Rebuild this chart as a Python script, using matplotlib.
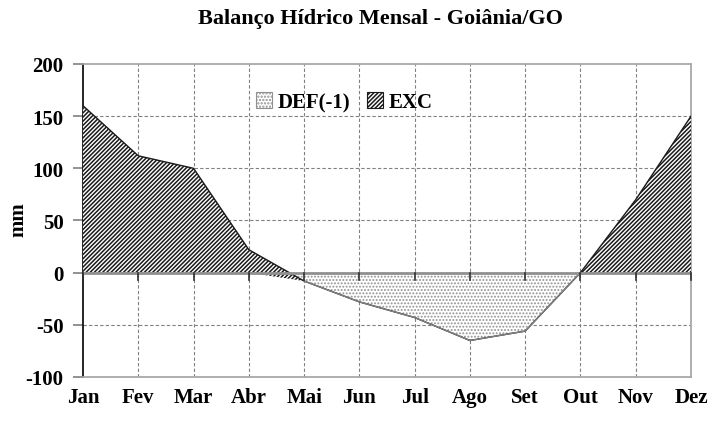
import matplotlib
matplotlib.use('Agg')
import matplotlib.pyplot as plt
import numpy as np
from matplotlib.patches import Patch

meses = ['Jan', 'Fev', 'Mar', 'Abr', 'Mai', 'Jun', 'Jul', 'Ago', 'Set', 'Out', 'Nov', 'Dez']
# deficiência (negativa) e excedente hídrico, mm
deficit = [0, 0, 0, 0, -8, -28, -43, -65, -56, 0, 0, 0]
excedente = [160, 112, 100, 22, 0, 0, 0, 0, 0, 0, 70, 150]

plt.rcParams['font.family'] = ['Liberation Serif', 'DejaVu Serif']
plt.rcParams['font.weight'] = 'bold'
plt.rcParams['axes.unicode_minus'] = False

x = np.arange(len(meses))
dfc = np.array(deficit, dtype=float)
topo = dfc + np.array(excedente, dtype=float)

fig = plt.figure(figsize=(7.13, 4.31), dpi=100)
ax = fig.add_axes([83 / 713, 1 - 378 / 431, (691 - 83) / 713, (378 - 65) / 431])

# grade
for yy in [-50, 50, 100, 150]:
    ax.axhline(yy, color='#808080', lw=0.8, ls=(0, (3, 2)), zorder=0)
for xx in x[1:-1]:
    ax.axvline(xx, color='#808080', lw=0.8, ls=(0, (3, 2)), zorder=0)

# áreas empilhadas: DEF primeiro, EXC por cima de DEF
plt.rcParams['hatch.linewidth'] = 0.9
ax.fill_between(x, 0, dfc, facecolor='white', edgecolor='#909090', hatch='.....',
                lw=0.0, zorder=1)
leg_def = Patch(facecolor='white', edgecolor='#909090', hatch='.....', lw=0.8, label='DEF(-1)')
plt.rcParams['hatch.linewidth'] = 1.1
ax.fill_between(x, dfc, topo, facecolor='white', edgecolor='#1a1a1a', hatch='////////',
                lw=0.0, zorder=3)
leg_exc = Patch(facecolor='white', edgecolor='#1a1a1a', hatch='////////', lw=0.8, label='EXC')
ax.plot(x, topo, color='#1a1a1a', lw=1.0, zorder=4)
ax.plot(x[4:10], dfc[4:10], color='#808080', lw=1.0, zorder=4)

# eixo das categorias em zero
ax.axhline(0, color='#909090', lw=2.0, zorder=5)
for xx in x:
    ax.plot([xx, xx], [0, -7], color='#303030', lw=1.2, zorder=5, clip_on=False)

ax.set_xlim(0, 11)
ax.set_ylim(-100, 200)
ax.set_yticks(np.arange(-100, 201, 50))
ax.set_xticks(x)
ax.set_xticklabels(meses)
ax.tick_params(axis='x', length=0, pad=7, labelsize=15)
ax.tick_params(axis='y', direction='out', length=7, width=1.2, color='#808080',
               labelsize=15, pad=7)

for s in ['top', 'right', 'bottom']:
    ax.spines[s].set_color('#a8a8a8')
    ax.spines[s].set_linewidth(1.3)
ax.spines['left'].set_color('black')
ax.spines['left'].set_linewidth(1.2)

fig.text(0.533, 0.957, 'Balanço Hídrico Mensal - Goiânia/GO', ha='center', va='center',
         fontsize=16, fontweight='bold')
fig.text(0.026, 1 - 220 / 431, 'mm', rotation=90, ha='center', va='center',
         fontsize=15, fontweight='bold')

ax.legend(handles=[leg_def, leg_exc], loc='upper center', bbox_to_anchor=(0.43, 0.97), ncol=2,
          frameon=False, fontsize=15, handlelength=0.75, handleheight=0.75,
          handletextpad=0.3, columnspacing=0.8)

fig.savefig('out.png', dpi=100)
